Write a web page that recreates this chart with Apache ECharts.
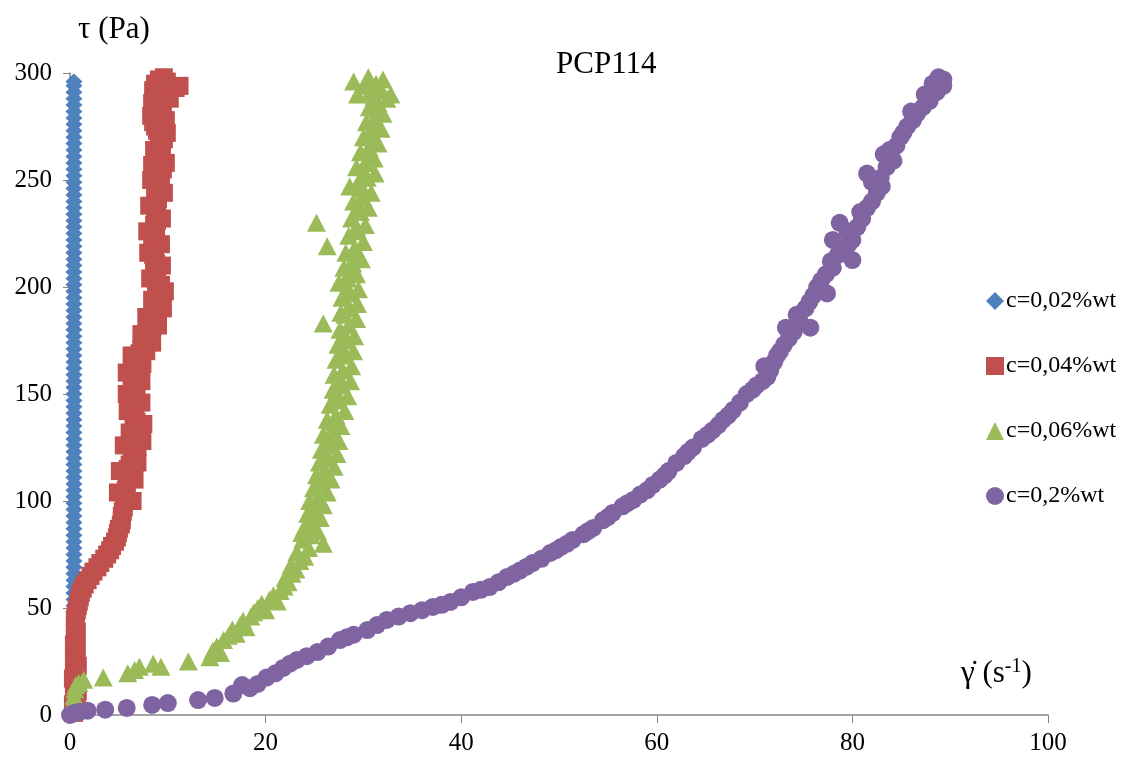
<!DOCTYPE html>
<html>
<head>
<meta charset="utf-8">
<script src="https://cdn.jsdelivr.net/npm/echarts@6/dist/echarts.min.js"></script>
<style>html,body{margin:0;padding:0;background:#fff}#c{width:1138px;height:760px}</style>
</head>
<body>
<div id="c"></div>
<script>
const chartTitle = 'PCP114';
const seriesNames = ['c=0,02%wt', 'c=0,04%wt', 'c=0,06%wt', 'c=0,2%wt'];
const xTicks = [0, 20, 40, 60, 80, 100];
const yTicks = [0, 50, 100, 150, 200, 250, 300];

const c002 = [[0.4,0],[0.4,3],[0.4,6],[0.4,9],[0.4,12],[0.4,15],[0.4,18],[0.4,21],[0.4,24],[0.4,27],[0.4,30],[0.4,33],[0.4,36],[0.4,39],[0.4,42],[0.4,45],[0.4,48],[0.4,51],[0.4,54],[0.4,57],[0.4,60],[0.4,63],[0.4,66],[0.4,69],[0.4,72],[0.4,75],[0.4,78],[0.4,81],[0.4,84],[0.4,87],[0.4,90],[0.4,93],[0.4,96],[0.4,99],[0.4,102],[0.4,105],[0.4,108],[0.4,111],[0.4,114],[0.4,117],[0.4,120],[0.4,123],[0.4,126],[0.4,129],[0.4,132],[0.4,135],[0.4,138],[0.4,141],[0.4,144],[0.4,147],[0.4,150],[0.4,153],[0.4,156],[0.4,159],[0.4,162],[0.4,165],[0.4,168],[0.4,171],[0.4,174],[0.4,177],[0.4,180],[0.4,183],[0.4,186],[0.4,189],[0.4,192],[0.4,195],[0.4,198],[0.4,201],[0.4,204],[0.4,207],[0.4,210],[0.4,213],[0.4,216],[0.4,219],[0.4,222],[0.4,225],[0.4,228],[0.4,231],[0.4,234],[0.4,237],[0.4,240],[0.4,243],[0.4,246],[0.4,249],[0.4,252],[0.4,255],[0.4,258],[0.4,261],[0.4,264],[0.4,267],[0.4,270],[0.4,273],[0.4,276],[0.4,279],[0.4,282],[0.4,285],[0.4,288],[0.4,291],[0.4,294],[0.4,296]];

const c004 = [[0.4,1],[0.6,3],[0.3,5],[0.7,7],[0.5,9],[0.8,11],[0.4,13],[0.6,15],[0.3,17],[0.7,19],[0.5,21],[0.8,23],[0.4,25],[0.6,27],[0.5,29],[0.7,31],[0.4,33],[0.6,35],[0.5,37],[0.7,39],[0.5,41],[0.6,43],[0.5,45],[0.6,47],[0.7,49],[0.8,51],[0.9,53],[1.0,55],[1.1,57],[1.3,59],[1.5,61],[1.8,63],[2.1,65],[2.4,67],[2.8,69],[3.1,71],[3.5,73],[3.8,75],[4.1,77],[4.3,79],[4.6,81],[4.8,83],[4.9,85],[5.0,87],[5.2,89],[5.3,91],[5.3,93],[5.4,95],[5.5,97],[5.5,99],[5.6,101],[5.6,103],[5.7,105],[5.8,107],[5.8,109],[5.9,111],[6.0,113],[5.9,115],[6.1,117],[6.3,119],[6.5,121],[6.8,123],[6.9,125],[6.7,127],[6.9,129],[6.8,131],[6.6,133],[6.7,135],[6.8,137],[6.5,139],[6.6,141],[6.7,143],[6.6,145],[6.5,147],[6.8,149],[6.6,151],[6.3,153],[6.4,155],[6.5,157],[6.6,159],[6.4,161],[6.7,163],[6.9,165],[7.0,167],[7.1,169],[7.3,171],[7.6,173],[7.9,175],[8.1,177],[8.3,179],[8.4,181],[8.6,183],[8.7,185],[8.9,187],[9.0,189],[9.1,191],[9.2,193],[9.0,195],[8.9,197],[8.8,199],[9.3,201],[8.9,203],[8.7,205],[8.8,207],[8.6,209],[8.8,211],[8.6,213],[8.5,215],[8.7,217],[8.6,219],[8.4,221],[8.6,223],[8.7,225],[8.8,227],[8.6,229],[8.9,231],[8.7,233],[8.8,235],[8.9,237],[8.8,239],[9.0,241],[8.7,243],[8.9,245],[9.1,247],[8.8,249],[9.3,251],[8.9,253],[9.5,255],[8.4,257],[9.0,259],[9.2,261],[9.4,263],[9.3,265],[9.1,267],[9.6,269],[9.2,271],[8.9,273],[8.7,275],[8.5,277],[9.0,279],[8.6,281],[9.3,283],[9.5,285],[9.3,287],[8.9,289],[10.1,291],[10.8,293],[11.2,294],[9.2,293],[8.7,295],[9.1,297],[9.6,298],[6.4,100],[4.9,104],[6.6,110],[5.1,114],[6.9,118],[5.5,126],[7.4,128],[6.1,132],[7.5,136],[5.9,142],[7.3,146],[5.8,150],[7.3,156],[5.8,160],[7.4,164],[6.3,168],[7.8,170],[8.4,174],[7.3,178],[9.0,182],[7.8,186],[9.5,190],[8.4,194],[9.7,198],[8.2,204],[9.4,210],[8.0,216],[9.3,220],[7.9,226],[9.4,232],[8.1,238],[9.6,244],[8.3,250],[9.8,258],[8.6,264],[9.9,272],[8.3,280],[9.8,278],[8.4,286],[10.2,288],[8.5,292],[9.9,296]];

const c006 = [[0.2,3],[0.3,6],[0.4,9],[0.5,12],[0.6,14],[0.9,15],[1.4,16.5],[3.4,17.5],[5.9,19.5],[6.6,21],[7.1,22.5],[8.5,24],[9.3,22.5],[12.1,25],[14.3,27],[14.6,30],[15.0,32],[15.4,29],[15.7,35],[16.2,37],[16.6,40],[17.0,38],[17.4,42],[17.7,44],[18.0,41],[18.5,46],[18.8,48],[19.2,50],[19.6,52],[20.0,49],[20.4,54],[20.8,56],[21.2,53],[21.5,58],[21.9,60],[22.3,62],[22.0,64],[22.7,66],[23.1,68],[22.6,70],[23.5,72],[24.0,74],[23.2,76],[24.4,78],[25.9,80],[23.8,82],[24.7,84],[25.3,86],[24.0,88],[24.8,90],[25.6,92],[24.3,94],[25.1,96],[25.9,98],[24.5,100],[25.4,102],[26.3,104],[24.9,106],[25.8,108],[26.7,110],[25.2,112],[26.1,114],[27.0,116],[25.5,118],[26.4,120],[27.3,122],[25.7,124],[26.6,126],[27.5,128],[25.9,131],[26.8,133],[27.7,135],[26.3,138],[27.2,140],[28.1,142],[26.6,145],[27.5,147],[28.4,149],[26.9,152],[27.8,154],[28.7,156],[27.0,159],[27.9,161],[28.8,163],[27.2,166],[28.1,168],[29.0,170],[27.4,173],[28.3,175],[29.1,177],[27.6,180],[28.5,182],[25.9,183],[29.3,185],[27.7,188],[28.6,190],[29.4,192],[27.8,195],[28.7,197],[29.5,199],[27.5,202],[28.4,204],[29.3,206],[28.0,209],[28.9,211],[29.8,213],[28.2,216],[29.1,218],[26.3,219],[30.0,221],[28.5,224],[29.4,226],[25.2,230],[30.2,229],[28.8,232],[29.7,235],[30.5,237],[29.0,240],[29.9,242],[30.8,244],[28.6,247],[29.5,249],[30.4,251],[31.2,253],[29.3,256],[30.2,258],[31.1,260],[29.7,263],[30.6,265],[31.5,267],[30.0,270],[30.9,272],[31.8,274],[30.3,277],[31.2,279],[32.0,281],[30.6,284],[31.5,286],[32.4,288],[29.4,290],[30.7,291],[31.8,292],[32.8,290],[30.1,294],[31.3,295],[29.0,296],[30.5,298],[32.0,297],[23.7,85],[24.9,93],[25.3,99],[25.9,111],[26.0,121],[26.5,129],[27.0,137],[27.3,150],[27.6,157],[27.9,171],[28.0,178],[28.1,187],[28.2,198],[28.6,207],[29.1,214],[29.3,228],[29.5,238],[29.9,246],[30.1,252],[30.6,261],[30.9,268],[31.0,275],[31.4,283],[31.1,289]];

const c02 = [[0,0],[0.2,0.5],[0.5,1],[1,1.5],[1.8,2],[3.6,2.5],[5.8,3.3],[8.4,4.7],[10,5.6],[13.1,7],[14.8,8],[16.7,10],[17.6,14],[18.4,12.5],[19.2,14.5],[20.1,17.5],[21,19.5],[21.8,22],[22.5,24],[23.2,25.7],[24.2,27.5],[25.3,29.4],[26.4,32],[27.6,35],[28.3,36.3],[29,37.5],[30.4,39.7],[31.4,42],[32.4,44.4],[33.6,46],[34.8,47.6],[36,49],[37.1,50.5],[38,51.5],[38.9,52.8],[40,55],[41.2,57.5],[42,58.5],[42.9,59.8],[43.8,62],[44.7,64.5],[45.4,66],[46,67.5],[46.7,69.3],[47.3,71],[48.2,73],[49.1,75.7],[49.7,77],[50.2,78.5],[50.8,80],[51.4,81.8],[52.5,84.5],[53,86],[53.5,87.4],[54.5,91],[55,92.5],[55.5,94.4],[56.5,97.5],[57,99],[57.6,100.5],[58.3,103],[59,105],[59.6,107.5],[60.3,110],[60.8,112],[61.2,114],[62,117.8],[62.8,121],[63.2,123],[63.7,125],[64.6,129],[65.2,131],[65.7,133],[66.3,135.5],[66.8,138],[67.3,140],[67.8,142.5],[68.5,146],[69.2,150],[69.8,152],[70.2,154],[70.8,156],[71.3,158],[71.6,161],[72,165],[72.3,168],[72.6,170],[73,173],[73.5,176],[74,179],[74.6,184],[75.7,181],[75.2,190],[75.6,193],[76,196],[77.4,197],[76.8,203],[77.3,206],[78,209],[80,212.6],[78.5,215],[79.2,218],[80,222],[78,222],[79.5,226],[80.5,228],[78.7,230],[81,232],[81.5,237],[82,240],[82.5,244],[82,249],[83,247],[81.5,253],[83.5,256],[84.2,259],[83.8,264],[84.5,266],[84.9,270],[85.6,275],[86.2,278],[86.6,281],[87.2,284],[87.9,287],[88.6,291],[89.3,294],[89.3,297],[88.8,298],[71.0,163],[73.2,181],[74.3,187],[76.4,200],[77.8,212],[79.6,220],[80.8,235],[82.9,251],[83.2,262],[85.2,272],[86.0,282],[87.4,290],[88.2,295]];

const serif = 'Liberation Serif';
const chart = echarts.init(document.getElementById('c'));
chart.setOption({
  backgroundColor: '#ffffff',
  animation: false,
  title: {
    text: chartTitle, left: 551, top: 44,
    textStyle: { fontFamily: serif, fontSize: 31, fontWeight: 'normal', color: '#000' }
  },
  legend: {
    orient: 'vertical', left: 981, top: 284, itemGap: 41,
    itemWidth: 18, itemHeight: 18,
    textStyle: { fontFamily: serif, fontSize: 24, color: '#000', padding: [0, 0, 0, -3] },
    data: seriesNames
  },
  grid: { left: 70, right: 90, top: 73, bottom: 45, containLabel: false },
  xAxis: {
    type: 'value', min: xTicks[0], max: xTicks[xTicks.length - 1], interval: 20,
    name: '{g|γ̇} (s{sup|-1})',
    nameLocation: 'end', nameGap: -87,
    nameTextStyle: {
      fontFamily: serif, fontSize: 31, color: '#000', align: 'left', verticalAlign: 'bottom',
      padding: [0, 0, 25, 0],
      rich: {
        g: { fontFamily: serif, fontSize: 31, color: '#000' },
        sup: { fontFamily: serif, fontSize: 20, color: '#000', verticalAlign: 'top', padding: [0, 0, 13, 0] }
      }
    },
    axisLine: { lineStyle: { color: '#868686', width: 1.5 } },
    axisTick: { show: true, inside: false, length: 8, lineStyle: { color: '#868686' } },
    axisLabel: { fontFamily: serif, fontSize: 25, color: '#000', margin: 16 },
    splitLine: { show: false }
  },
  yAxis: {
    type: 'value', min: yTicks[0], max: yTicks[yTicks.length - 1], interval: 50,
    name: 'τ (Pa)', nameLocation: 'end', nameGap: 43,
    nameTextStyle: { fontFamily: serif, fontSize: 31, color: '#000', align: 'left', verticalAlign: 'middle', padding: [0, 0, 0, 8] },
    axisLine: { show: true, lineStyle: { color: '#868686', width: 1.5 } },
    axisTick: { show: true, inside: false, length: 7, lineStyle: { color: '#868686' } },
    axisLabel: { fontFamily: serif, fontSize: 25, color: '#000', margin: 18 },
    splitLine: { show: false }
  },
  series: [
    { name: seriesNames[0], type: 'scatter', data: c002, symbol: 'diamond', symbolSize: [17, 16], itemStyle: { color: '#4F81BD', opacity: 1 }, z: 2 },
    { name: seriesNames[1], type: 'scatter', data: c004, symbol: 'rect', symbolSize: 18, itemStyle: { color: '#C0504D', opacity: 1 }, z: 3 },
    { name: seriesNames[2], type: 'scatter', data: c006, symbol: 'triangle', symbolSize: [19, 18], itemStyle: { color: '#9BBB59', opacity: 1 }, z: 4 },
    { name: seriesNames[3], type: 'scatter', data: c02, symbol: 'circle', symbolSize: 18, itemStyle: { color: '#8064A2', opacity: 1 }, z: 5 }
  ]
});
</script>
</body>
</html>
